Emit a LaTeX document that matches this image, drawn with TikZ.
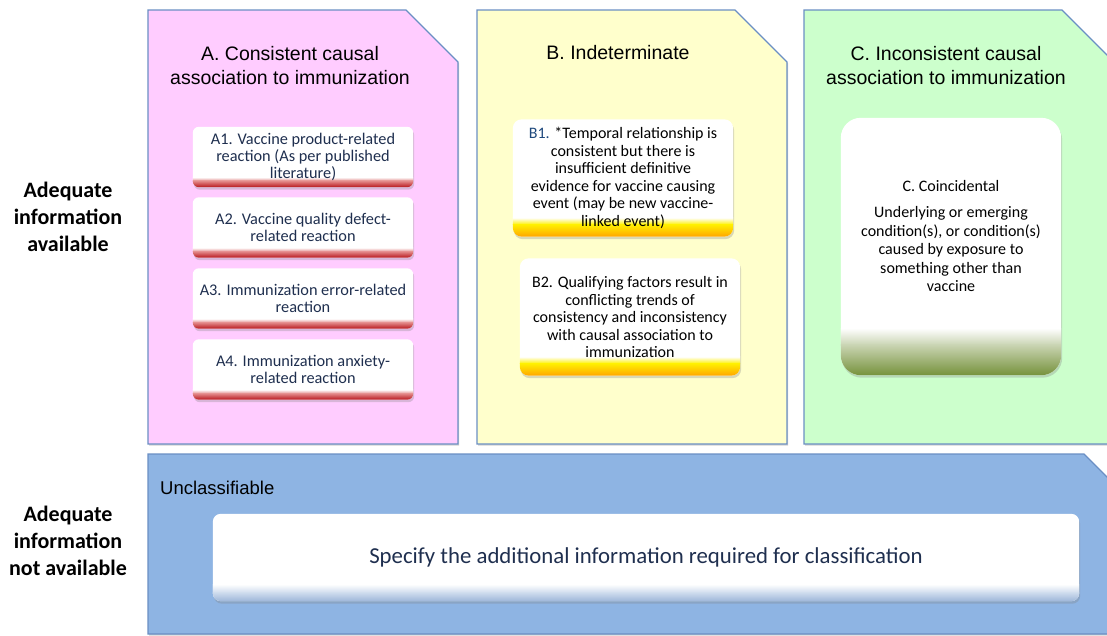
\documentclass[tikz,border=0pt]{standalone}
\usepackage{fontspec}
\setmainfont{Liberation Sans}
\newfontfamily\carlitofont{Carlito}
\usetikzlibrary{shadows}
\pgfdeclarelayer{panels}
\pgfdeclarelayer{boxbgs}
\pgfsetlayers{panels,boxbgs,main}
\definecolor{pbord}{HTML}{6A8FC4}
\definecolor{pinkA}{HTML}{FFCCFF}
\definecolor{yelB}{HTML}{FFFFCC}
\definecolor{grnC}{HTML}{CCFFCC}
\definecolor{bluD}{HTML}{8EB4E3}
\definecolor{navy}{HTML}{1F2F4F}
\definecolor{bnavy}{HTML}{1F497D}
\definecolor{redA}{HTML}{B8161C}
\definecolor{pinkband}{HTML}{E38A8A}
\definecolor{yelband}{HTML}{FFF000}
\definecolor{orgband}{HTML}{FFA500}
\definecolor{olive}{HTML}{76923C}
\definecolor{olivemid}{HTML}{C9D4B2}
\definecolor{lbluemid}{HTML}{CCDAEC}
\definecolor{lblue}{HTML}{9DB6D9}
\tikzset{
  panel/.style={draw=pbord, line width=1.1pt,
    drop shadow={opacity=0.35, shadow xshift=1pt, shadow yshift=-1.5pt}},
  boxshadow/.style={drop shadow={opacity=0.3, shadow xshift=1pt, shadow yshift=-2.5pt}},
  gbox/.style={minimum width=220pt, inner sep=0pt, align=center},
  abox/.style={gbox, minimum height=60pt, text=navy,
    font=\carlitofont\fontsize{16.3}{17.3}\selectfont},
  bbox/.style={gbox, minimum height=117pt, text=black,
    font=\carlitofont\fontsize{16}{17.5}\selectfont},
  cbox/.style={gbox, minimum height=257pt, text=black,
    font=\carlitofont\fontsize{16}{18.5}\selectfont},
  aup/.style={top color=white, bottom color=pinkband},
  alow/.style={top color=pinkband, bottom color=redA},
  bup/.style={top color=white, bottom color=yelband},
  blow/.style={top color=yelband, bottom color=orgband},
  cup/.style={top color=white, bottom color=olivemid},
  clow/.style={top color=olivemid, bottom color=olive},
  dup/.style={top color=white, bottom color=lbluemid},
  dlow/.style={top color=lbluemid, bottom color=lblue},
  title/.style={align=center, inner sep=0pt, font=\fontsize{19.5}{23.5}\selectfont},
  lbl/.style={align=center, inner sep=0pt, font=\carlitofont\bfseries\fontsize{22}{27}\selectfont},
}
% #1 node, #2 radius, #3 band height, #4 split height, #5 upper shading, #6 lower shading
\newcommand\boxbg[6]{%
  \begin{pgfonlayer}{boxbgs}
  \path[boxshadow, fill=white, rounded corners=#2] (#1.south west) rectangle (#1.north east);
  \begin{scope}
    \clip[rounded corners=#2] (#1.south west) rectangle (#1.north east);
    \shade[#5] ([yshift=#3]#1.south west) rectangle ([xshift=1pt, yshift=#4]#1.south east);
    \shade[#6] ([yshift=#4+0.3pt]#1.south west) rectangle ([xshift=1pt]#1.south east);
  \end{scope}
  \end{pgfonlayer}}
\begin{document}
\begin{tikzpicture}[x=1pt, y=-1pt]
\clip (0,0) rectangle (1107,635);
\begin{pgfonlayer}{panels}
\fill[white] (0,0) rectangle (1107,635);
\path[panel, fill=pinkA] (148,10) -- (406,10) -- (458,62) -- (458,444) -- (148,444) -- cycle;
\path[panel, fill=yelB] (477,10) -- (735,10) -- (787,62) -- (787,444) -- (477,444) -- cycle;
\path[panel, fill=grnC] (804,10) -- (1062,10) -- (1114,62) -- (1114,444) -- (804,444) -- cycle;
\path[panel, fill=bluD] (148,454) -- (1084,454) -- (1136,506) -- (1136,634) -- (148,634) -- cycle;
\end{pgfonlayer}
% titles
\node[title] (ta) at (290,65.5) {A. Consistent causal\\association to immunization};
\node[title] (tb) at (618,53) {B. Indeterminate};
\node[title] (tc) at (946,65.5) {C. Inconsistent causal\\association to immunization};
% left labels
\node[lbl] (l1) at (68,217) {Adequate\\information\\available};
\node[lbl] (l2) at (68,541) {Adequate\\information\\not available};
% A boxes
\node[abox] (a1) at (303,157) {A1. Vaccine product-related\\reaction (As per published\\literature)};
\node[abox] (a2) at (303,227.5) {A2. Vaccine quality defect-\\related reaction};
\node[abox] (a3) at (303,298.5) {A3. Immunization error-related\\reaction};
\node[abox] (a4) at (303,369.5) {A4. Immunization anxiety-\\related reaction};
\boxbg{a1}{6pt}{10pt}{6pt}{aup}{alow}
\boxbg{a2}{6pt}{10pt}{6pt}{aup}{alow}
\boxbg{a3}{6pt}{10pt}{6pt}{aup}{alow}
\boxbg{a4}{6pt}{10pt}{6pt}{aup}{alow}
% B boxes
\node[bbox] (b1) at (623,178) {{\color{bnavy}B1.} *Temporal relationship is\\consistent but there is\\insufficient definitive\\evidence for vaccine causing\\event (may be new vaccine-\\linked event)};
\node[bbox] (b2) at (630,317) {B2. Qualifying factors result in\\conflicting trends of\\consistency and inconsistency\\with causal association to\\immunization};
\boxbg{b1}{9pt}{19pt}{12pt}{bup}{blow}
\boxbg{b2}{9pt}{19pt}{12pt}{bup}{blow}
% C box
\node[cbox] (c1) at (951,246.5) {C. Coincidental\\[8pt]Underlying or emerging\\condition(s), or condition(s)\\caused by exposure to\\something other than\\vaccine\\[3pt]};
\boxbg{c1}{20pt}{47pt}{30pt}{cup}{clow}
% unclassifiable
\node[anchor=west, inner sep=0pt, font=\fontsize{18.5}{22}\selectfont] (un) at (160,488) {Unclassifiable};
\node[gbox, minimum width=866pt, minimum height=87pt, text=navy,
  font=\carlitofont\fontsize{22.8}{26}\selectfont] (d1) at (646,557.5) {Specify the additional information required for classification};
\boxbg{d1}{8pt}{17pt}{8pt}{dup}{dlow}
\end{tikzpicture}
\end{document}
